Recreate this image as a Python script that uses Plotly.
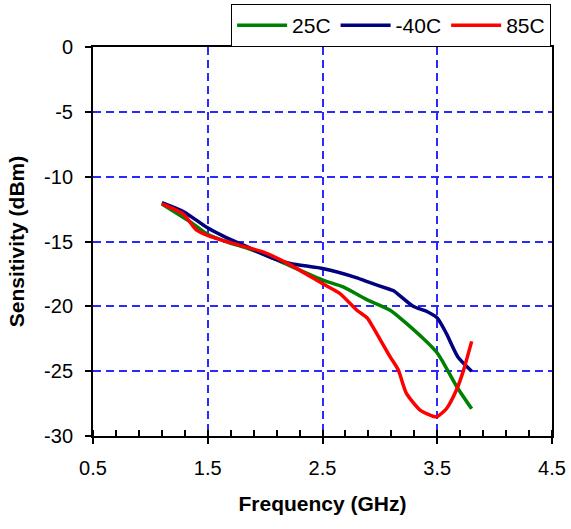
import plotly.graph_objects as go

# Data
freq_25 = [1.10, 1.35, 1.49, 1.69, 1.84, 2.07, 2.51, 2.68, 2.89, 3.09, 3.38, 3.50, 3.55, 3.67, 3.80]
sens_25 = [-12.1, -13.5, -14.4, -15.1, -15.5, -16.3, -18.0, -18.5, -19.5, -20.3, -22.5, -23.6, -24.3, -26.2, -27.9]

freq_m40 = [1.10, 1.29, 1.49, 1.64, 1.84, 2.07, 2.22, 2.51, 2.80, 2.89, 3.09, 3.12, 3.29, 3.41, 3.50, 3.58, 3.68, 3.80]
sens_m40 = [-12.0, -12.7, -13.9, -14.6, -15.4, -16.3, -16.7, -17.1, -17.8, -18.1, -18.7, -18.8, -20.0, -20.4, -20.9, -22.1, -23.9, -25.0]

freq_85 = [1.10, 1.29, 1.40, 1.52, 1.78, 1.98, 2.22, 2.51, 2.65, 2.80, 2.89, 2.94, 3.09, 3.16, 3.23, 3.35, 3.47, 3.50, 3.58, 3.67, 3.73, 3.80]
sens_85 = [-12.1, -12.9, -14.1, -14.6, -15.3, -15.8, -16.8, -18.3, -19.0, -20.3, -20.9, -21.6, -23.9, -24.9, -26.7, -28.0, -28.5, -28.5, -27.9, -26.4, -24.9, -22.7]

series = [
    ("25C", freq_25, sens_25, "#008000"),
    ("-40C", freq_m40, sens_m40, "#000080"),
    ("85C", freq_85, sens_85, "#FF0000"),
]

x_ticks = [0.5, 1.5, 2.5, 3.5, 4.5]
y_ticks = [0, -5, -10, -15, -20, -25, -30]

FONT = "Liberation Sans, Arial, sans-serif"
GRID = "#2a2aff"

fig = go.Figure()
for name, xs, ys, color in series:
    fig.add_trace(go.Scatter(
        x=xs, y=ys, name=name, mode="lines",
        line=dict(color=color, width=3.5, shape="spline", smoothing=0.6),
    ))

fig.update_layout(
    width=571, height=529,
    margin=dict(l=93, r=19, t=47, b=93, autoexpand=False),
    paper_bgcolor="white", plot_bgcolor="white",
    font=dict(family=FONT, size=20, color="black"),
    showlegend=True,
    legend=dict(
        orientation="h", x=0.998, xanchor="right", y=1.1105, yanchor="top",
        bgcolor="white", bordercolor="black", borderwidth=1,
        font=dict(size=21), itemwidth=50, tracegroupgap=0,
    ),
)

fig.update_xaxes(
    range=[0.5, 4.5], tickvals=x_ticks, ticktext=[str(v) for v in x_ticks],
    showline=True, linecolor="black", linewidth=2, mirror=True,
    ticks="outside", ticklen=6, tickwidth=2, tickcolor="black",
    showgrid=True, gridcolor=GRID, gridwidth=1.5, griddash="8px,5px",
    minor=dict(dtick=0.2, tick0=0.5, ticks="inside", ticklen=6, tickwidth=1.5, tickcolor="black", showgrid=False),
    zeroline=False, automargin=False,
    title=dict(text="<b>Frequency (GHz)</b>", font=dict(size=21), standoff=18),
    ticklabelstandoff=7,
)
fig.update_yaxes(
    range=[-30, 0], tickvals=y_ticks, ticktext=[str(v) for v in y_ticks],
    showline=True, linecolor="black", linewidth=2, mirror=True,
    ticks="outside", ticklen=6, tickwidth=2, tickcolor="black",
    showgrid=True, gridcolor=GRID, gridwidth=1.5, griddash="8px,5px",
    zeroline=False, automargin=False,
    title=dict(text="<b>Sensitivity (dBm)</b>", font=dict(size=21), standoff=14),
    ticklabelstandoff=8,
)

# remove the default page margin so the figure sits at the window's top-left corner
fig.write_html(
    "out.html",
    config={"displayModeBar": False},
    post_script="document.body.style.margin='0';",
)
